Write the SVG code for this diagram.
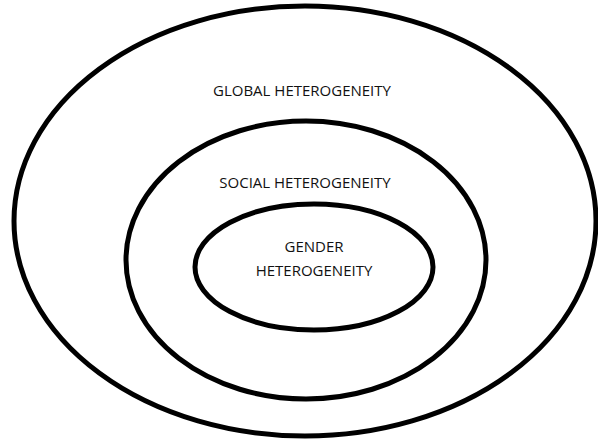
<svg xmlns="http://www.w3.org/2000/svg" width="598" height="439" viewBox="0 0 598 439">
<style>
.ring{fill:none;stroke:#000;stroke-width:5}
.lbl{font-family:"Open Sans","Liberation Sans",sans-serif;font-size:15px;fill:#111;text-anchor:middle}
</style>
<rect width="598" height="439" fill="#fff"/>
<g id="global">
<ellipse class="ring" cx="305" cy="221" rx="291" ry="215"/>
<text class="lbl" x="302" y="96">GLOBAL HETEROGENEITY</text>
</g>
<g id="social">
<ellipse class="ring" cx="306" cy="260" rx="180" ry="139"/>
<text class="lbl" x="305" y="188">SOCIAL HETEROGENEITY</text>
</g>
<g id="gender">
<ellipse class="ring" cx="314" cy="267" rx="119" ry="63"/>
<text class="lbl" x="314" y="252">GENDER</text>
<text class="lbl" x="314" y="276">HETEROGENEITY</text>
</g>
<g id="connectors"/>
</svg>
